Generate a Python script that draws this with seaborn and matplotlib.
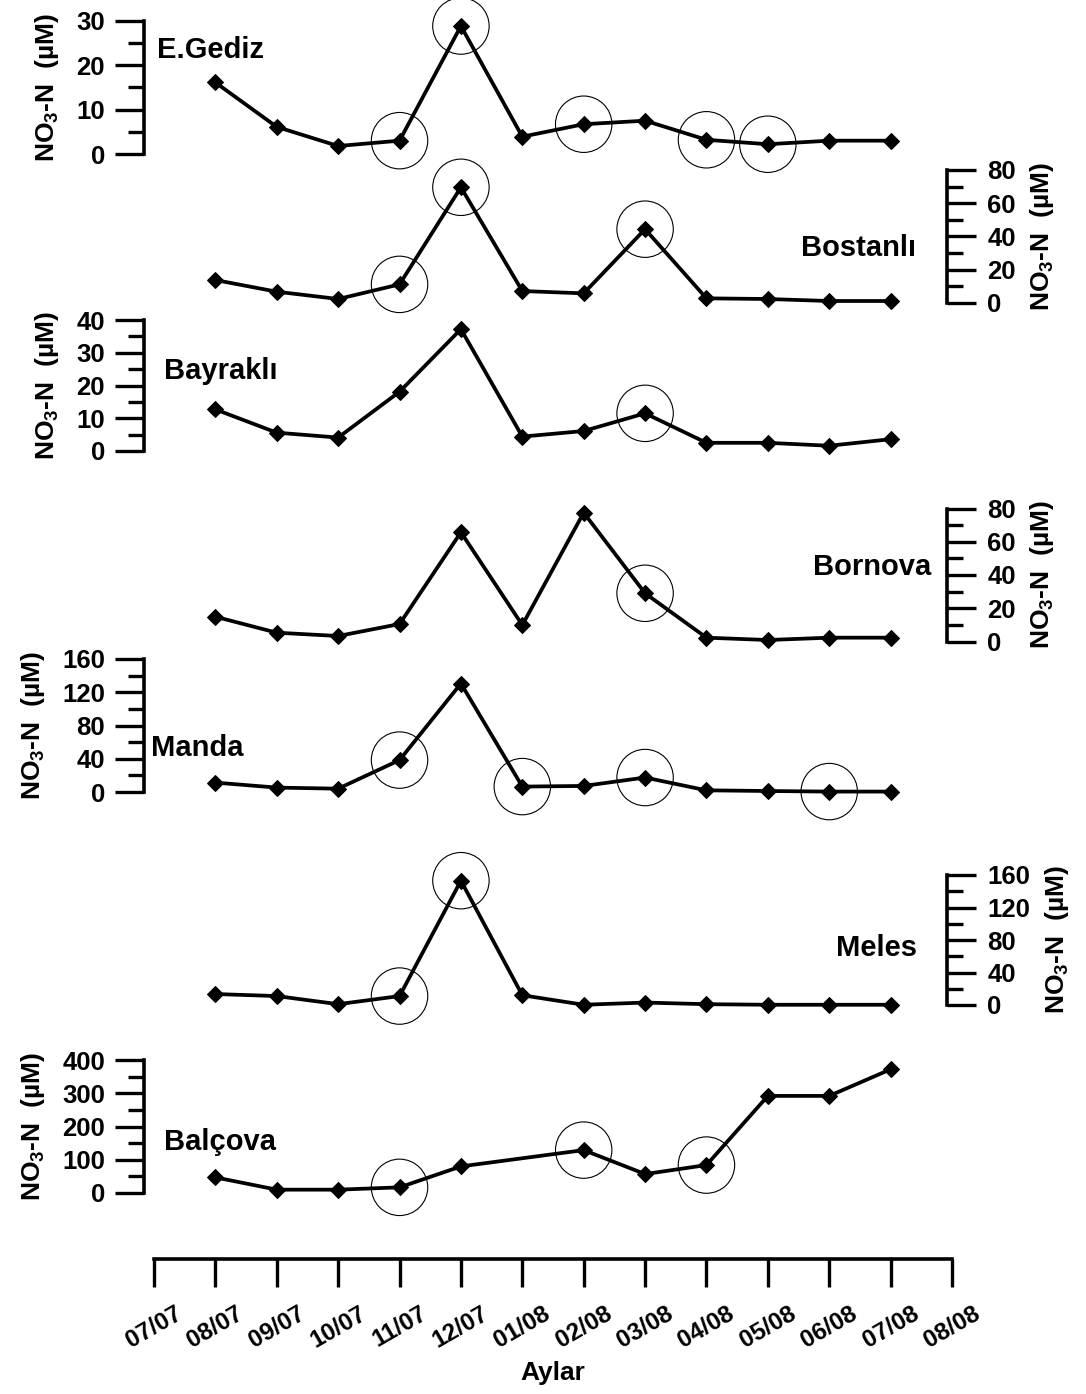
import numpy as np
import pandas as pd
import matplotlib
matplotlib.use("Agg")
import matplotlib.pyplot as plt
from matplotlib.ticker import MultipleLocator
import seaborn as sns

# ---------------- data ----------------
months = ["07/07", "08/07", "09/07", "10/07", "11/07", "12/07", "01/08",
          "02/08", "03/08", "04/08", "05/08", "06/08", "07/08", "08/08"]
sample_months = ["08/07", "09/07", "10/07", "11/07", "12/07", "01/08",
                 "02/08", "03/08", "04/08", "05/08", "06/08", "07/08"]

stations = ["E.Gediz", "Bostanlı", "Bayraklı", "Bornova", "Manda", "Meles", "Balçova"]

egediz = [16.1, 6.1, 1.8, 3.0, 28.8, 3.9, 6.7, 7.5, 3.2, 2.2, 3.0, 3.0]
bostanli = [13.8, 6.8, 2.4, 11.2, 69.6, 7.2, 5.8, 44.4, 2.8, 2.4, 1.2, 1.2]
bayrakli = [12.7, 5.6, 4.1, 18.1, 37.2, 4.4, 6.1, 11.5, 2.5, 2.5, 1.6, 3.6]
bornova = [14.9, 5.3, 3.3, 10.5, 65.7, 9.9, 77.5, 29.0, 2.3, 0.9, 2.3, 2.3]
manda = [11.3, 5.3, 4.0, 38.4, 130.5, 6.5, 7.3, 17.4, 2.0, 1.2, 0.5, 0.5]
meles = [13.5, 11.0, 1.0, 11.0, 153.0, 12.0, 0.3, 3.0, 1.0, 0.3, 0.3, 0.3]
balcova = [47, 10, 10, 17, 80, np.nan, 129, 57, 84, 292, 292, 372]

series = {"E.Gediz": egediz, "Bostanlı": bostanli, "Bayraklı": bayrakli,
          "Bornova": bornova, "Manda": manda, "Meles": meles, "Balçova": balcova}

circled = {
    "E.Gediz": ["11/07", "12/07", "02/08", "04/08", "05/08"],
    "Bostanlı": ["11/07", "12/07", "03/08"],
    "Bayraklı": ["03/08"],
    "Bornova": ["03/08"],
    "Manda": ["11/07", "01/08", "03/08", "06/08"],
    "Meles": ["11/07", "12/07"],
    "Balçova": ["11/07", "02/08", "04/08"],
}

y_max = {"E.Gediz": 30, "Bostanlı": 80, "Bayraklı": 40, "Bornova": 80,
         "Manda": 160, "Meles": 160, "Balçova": 400}
y_major = {"E.Gediz": 10, "Bostanlı": 20, "Bayraklı": 10, "Bornova": 20,
           "Manda": 40, "Meles": 40, "Balçova": 100}
y_minor = {"E.Gediz": 5, "Bostanlı": 10, "Bayraklı": 5, "Bornova": 10,
           "Manda": 20, "Meles": 20, "Balçova": 50}
axis_side = {"E.Gediz": "left", "Bostanlı": "right", "Bayraklı": "left",
             "Bornova": "right", "Manda": "left", "Meles": "right", "Balçova": "left"}

ylabel_text = "NO$_3$-N  (µM)"
xlabel_text = "Aylar"

# ---------------- style ----------------
sns.set_theme(style="white")
plt.rcParams["font.family"] = ["Liberation Sans", "DejaVu Sans"]
plt.rcParams["font.weight"] = "bold"
plt.rcParams["axes.labelweight"] = "bold"
plt.rcParams["text.color"] = "black"
plt.rcParams["axes.labelcolor"] = "black"
plt.rcParams["xtick.color"] = "black"
plt.rcParams["ytick.color"] = "black"
plt.rcParams["mathtext.fontset"] = "custom"
plt.rcParams["mathtext.rm"] = "Liberation Sans:bold"
plt.rcParams["mathtext.bf"] = "Liberation Sans:bold"
plt.rcParams["mathtext.default"] = "bf"

W, H = 1086, 1394
fig = plt.figure(figsize=(W / 100, H / 100), dpi=100)


def fy(px):
    return 1 - px / H


# panel layout in pixels: (top of axis, zero of axis), label position
layout = {
    "E.Gediz": (20.7, 154.0, (157, 50), "left"),
    "Bostanlı": (170.0, 303.0, (916, 248), "right"),
    "Bayraklı": (320.0, 451.0, (164, 371), "left"),
    "Bornova": (508.5, 641.5, (931, 567), "right"),
    "Manda": (659.0, 792.0, (151, 748), "left"),
    "Meles": (875.0, 1005.0, (917, 948), "right"),
    "Balçova": (1060.0, 1193.0, (164, 1142), "left"),
}

x_left_px, x_right_px = 144, 947
x0_px, step_px = 154.0, (952.0 - 154.0) / 13
xlim = ((x_left_px - x0_px) / step_px, (x_right_px - x0_px) / step_px)

for st in stations:
    top, zero, (lx, ly), lha = layout[st]
    ax = fig.add_axes([x_left_px / W, fy(zero), (x_right_px - x_left_px) / W, (zero - top) / H])
    ax.patch.set_alpha(0)
    df = pd.DataFrame({"month": sample_months, "val": series[st]})
    df["x"] = [months.index(m) for m in df["month"]]
    dfl = df.dropna()
    sns.lineplot(data=dfl, x="x", y="val", ax=ax, color="black", linewidth=2.7,
                 marker="D", markersize=8, markeredgecolor="black", clip_on=False,
                 sort=False)
    dc = df[df["month"].isin(circled[st])]
    ax.scatter(dc["x"], dc["val"], s=1650, marker="o", facecolors="none",
               edgecolors="black", linewidths=0.8, clip_on=False, zorder=3)

    ax.set_xlim(*xlim)
    ax.set_ylim(0, y_max[st])
    ax.set_xticks([])
    ax.set_xlabel("")
    ax.yaxis.set_major_locator(MultipleLocator(y_major[st]))
    ax.yaxis.set_minor_locator(MultipleLocator(y_minor[st]))
    side = axis_side[st]
    for sp in ["top", "bottom", "left", "right"]:
        ax.spines[sp].set_visible(sp == side)
    ax.spines[side].set_linewidth(2.6)
    ax.spines[side].set_color("black")
    if side == "right":
        ax.yaxis.tick_right()
        ax.yaxis.set_label_position("right")
        pad = 8
    else:
        ax.yaxis.tick_left()
        pad = 7
    ax.tick_params(axis="y", which="major", direction="out", length=21, width=2.4,
                   labelsize=18.5, pad=pad, color="black", labelcolor="black")
    ax.tick_params(axis="y", which="minor", direction="out", length=11.5, width=2.4,
                   color="black")
    for t in ax.get_yticklabels():
        t.set_fontweight("bold")
    ax.set_ylabel(ylabel_text, fontsize=19, fontweight="bold",
                  labelpad=11 if side == "left" else 9)
    fig.text(lx / W, fy(ly), st, ha=lha, va="center", fontsize=21, fontweight="bold")

# bottom time axis
axb = fig.add_axes([154 / W, fy(1259), (952 - 154) / W, 0.0005])
axb.patch.set_alpha(0)
axb.set_xlim(0, 13)
axb.set_ylim(0, 1)
axb.set_yticks([])
for sp in ["top", "left", "right"]:
    axb.spines[sp].set_visible(False)
axb.spines["bottom"].set_linewidth(2.6)
axb.spines["bottom"].set_color("black")
axb.set_xticks(range(len(months)))
axb.set_xticklabels(months, rotation=30, ha="center", fontsize=17.5, fontweight="bold")
axb.tick_params(axis="x", which="major", bottom=True, direction="out", length=20,
                width=2.4, pad=11, color="black", labelcolor="black")
axb.set_xlabel(xlabel_text, fontsize=19, fontweight="bold", labelpad=6)

fig.savefig("out.png", dpi=100)
